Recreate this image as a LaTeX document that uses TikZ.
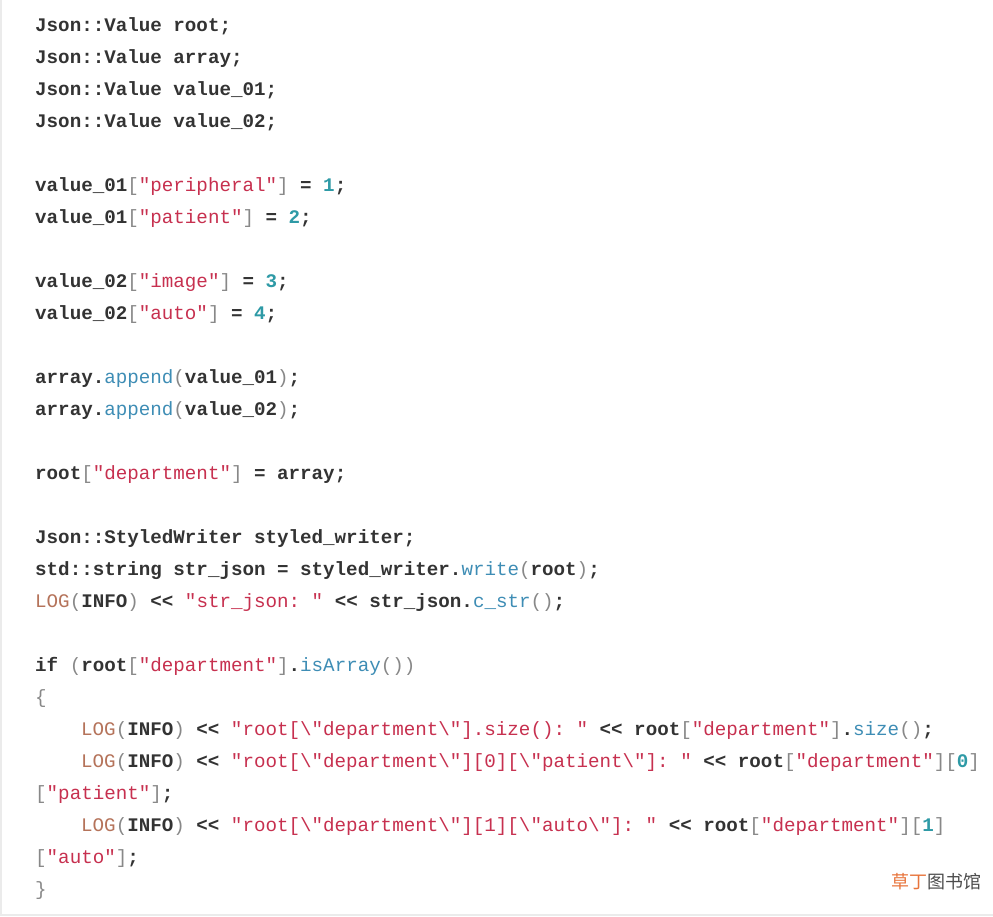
\documentclass[tikz,border=0pt]{standalone}
\usepackage{fontspec}
\setmonofont{Liberation Mono}
\newfontfamily\cjk{Noto Sans CJK SC}
\definecolor{txt}{HTML}{333333}
\definecolor{strc}{HTML}{C7304F}
\definecolor{func}{HTML}{3E8DB5}
\definecolor{numc}{HTML}{2E9AA6}
\definecolor{logc}{HTML}{B5735A}
\definecolor{punc}{HTML}{888888}
\definecolor{wmor}{HTML}{E8743B}
\newcommand\St[1]{{\color{strc}\mdseries#1}}
\newcommand\Fn[1]{{\color{func}\mdseries#1}}
\newcommand\Nm[1]{{\color{numc}#1}}
\newcommand\Pu[1]{{\color{punc}\mdseries#1}}
\newcommand\Lg{{\color{logc}\mdseries LOG}}
\newcommand\bsl{\textbackslash}
\newcommand\LB{\Pu{[}}
\newcommand\RB{\Pu{]}}
\newcommand\LP{\Pu{(}}
\newcommand\RP{\Pu{)}}
\begin{document}
\begin{tikzpicture}[x=1pt,y=-1pt,
  code/.style={anchor=base west,inner sep=0pt,font=\ttfamily\bfseries\fontsize{19.2}{24}\selectfont,text=txt}]
\useasboundingbox (0,0) rectangle (993,916);
\fill[white] (0,0) rectangle (993,916);
\draw[black!8,line width=2pt] (1,0) -- (1,916) (0,915) -- (993,915);
\def\ind{35}
\def\inb{81}
\node[code] (l1) at (\ind,31) {Json::Value root;};
\node[code] (l2) at (\ind,63) {Json::Value array;};
\node[code] (l3) at (\ind,95) {Json::Value value\_01;};
\node[code] (l4) at (\ind,127) {Json::Value value\_02;};
\node[code] (l5) at (\ind,191) {value\_01\LB\St{"peripheral"}\RB{} = \Nm{1};};
\node[code] (l6) at (\ind,223) {value\_01\LB\St{"patient"}\RB{} = \Nm{2};};
\node[code] (l7) at (\ind,287) {value\_02\LB\St{"image"}\RB{} = \Nm{3};};
\node[code] (l8) at (\ind,319) {value\_02\LB\St{"auto"}\RB{} = \Nm{4};};
\node[code] (l9) at (\ind,383) {array.\Fn{append}\LP value\_01\RP;};
\node[code] (l10) at (\ind,415) {array.\Fn{append}\LP value\_02\RP;};
\node[code] (l11) at (\ind,479) {root\LB\St{"department"}\RB{} = array;};
\node[code] (l12) at (\ind,543) {Json::StyledWriter styled\_writer;};
\node[code] (l13) at (\ind,575) {std::string str\_json = styled\_writer.\Fn{write}\LP root\RP;};
\node[code] (l14) at (\ind,607) {\Lg\LP INFO\RP{} << \St{"str\_json: "} << str\_json.\Fn{c\_str}\LP\RP;};
\node[code] (l15) at (\ind,671) {if \LP root\LB\St{"department"}\RB.\Fn{isArray}\LP\RP\RP};
\node[code] (l16) at (\ind,703) {\Pu{\{}};
\node[code] (l17) at (\inb,735) {\Lg\LP INFO\RP{} << \St{"root[\bsl"department\bsl"].size(): "} << root\LB\St{"department"}\RB.\Fn{size}\LP\RP;};
\node[code] (l18) at (\inb,767) {\Lg\LP INFO\RP{} << \St{"root[\bsl"department\bsl"][0][\bsl"patient\bsl"]: "} << root\LB\St{"department"}\RB\LB\Nm{0}\RB};
\node[code] (l19) at (\ind,799) {\LB\St{"patient"}\RB;};
\node[code] (l20) at (\inb,831) {\Lg\LP INFO\RP{} << \St{"root[\bsl"department\bsl"][1][\bsl"auto\bsl"]: "} << root\LB\St{"department"}\RB\LB\Nm{1}\RB};
\node[code] (l21) at (\ind,863) {\LB\St{"auto"}\RB;};
\node[code] (l22) at (\ind,895) {\Pu{\}}};
\node[anchor=base east,inner sep=0pt,font=\cjk\fontsize{18}{20}\selectfont] (wm) at (982,888) {\textcolor{wmor}{草丁}\textcolor{black!70}{图书馆}};
\end{tikzpicture}
\end{document}
